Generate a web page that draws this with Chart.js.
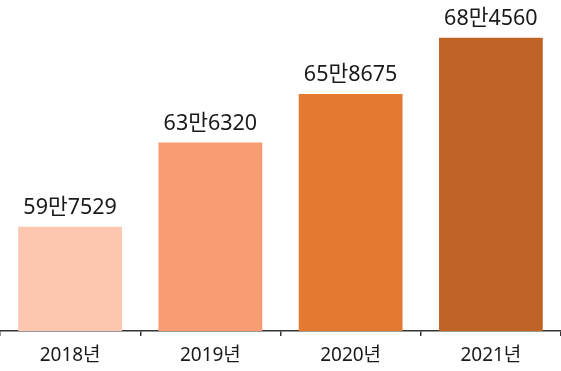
<!DOCTYPE html>
<html><head><meta charset="utf-8">
<script src="https://cdn.jsdelivr.net/npm/chart.js@4"></script>
<style>html,body{margin:0;padding:0;background:#fff;}#wrap{width:561px;height:371px;position:relative;}</style>
</head><body><div id="wrap"><canvas id="c"></canvas></div>
<script>
const categories = ['2018년', '2019년', '2020년', '2021년'];
const values = [597529, 636320, 658675, 684560];
const valueLabels = ['59만7529', '63만6320', '65만8675', '68만4560'];
const barColors = ['#FCC6B1', '#F89C73', '#E47A31', '#C06327'];

const labelPlugin = {
  id: 'barLabels',
  afterDatasetsDraw(chart) {
    const ctx = chart.ctx;
    const meta = chart.getDatasetMeta(0);
    ctx.save();
    ctx.font = '21.5px "Noto Sans", "Noto Sans CJK KR", sans-serif';
    ctx.fillStyle = '#1a1a1a';
    ctx.textAlign = 'center';
    ctx.textBaseline = 'alphabetic';
    meta.data.forEach((bar, i) => {
      ctx.fillText(valueLabels[i], bar.x, bar.y - 13);
    });
    ctx.restore();
  }
};

new Chart(document.getElementById('c'), {
  type: 'bar',
  data: {
    labels: categories,
    datasets: [{ data: values, backgroundColor: barColors, borderWidth: 0, barPercentage: 0.74, categoryPercentage: 1.0 }]
  },
  options: {
    responsive: true, maintainAspectRatio: false, animation: false,
    layout: { padding: 0 },
    plugins: { legend: { display: false }, tooltip: { enabled: false } },
    scales: {
      y: { display: false, min: 549500, max: 702000 },
      x: {
        afterFit(scale) { scale.height = 40; },
        border: { display: true, color: '#333', width: 1.5 },
        grid: { display: true, drawOnChartArea: false, drawTicks: true, tickLength: 5, color: '#333', lineWidth: 1.5, offset: true },
        ticks: { color: '#1a1a1a', padding: 8, font: { size: 19, family: '"Noto Sans", "Noto Sans CJK KR", sans-serif' } }
      }
    }
  },
  plugins: [labelPlugin]
});
</script></body></html>
